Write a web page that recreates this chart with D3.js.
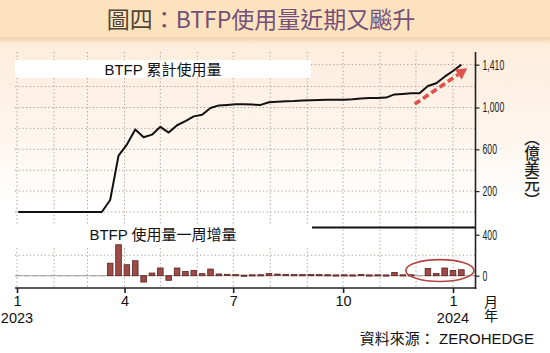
<!DOCTYPE html>
<html><head><meta charset="utf-8">
<script src="https://cdn.jsdelivr.net/npm/d3@7"></script>
<style>html,body{margin:0;padding:0;background:#fff;} svg{display:block}</style>
</head><body><svg id="c" width="550" height="353"></svg>
<script>
// ---------------- data ----------------
const titleMain = "圖四";
const titleRest = "：BTFP使用量近期又飈升";
const topLabel = "BTFP 累計使用量";
const bottomLabel = "BTFP 使用量一周增量";
const unitLabel = "（億美元）";
const axisUnitLabel = "月年";
const sourceLabel = "資料來源： ZEROHEDGE";

// weekly observations (Mondays), starting 2023-01-02
const firstWeek = "2023-01-02";
const cumulative = [0,0,0,0,0,0,0,0,0,0,0,
  115,540,645,790,715,740,815,760,830,870,
  915,930,995,1020,1025,1030,1030,1028,1025,1050,
  1055,1060,1063,1068,1070,1072,1073,1073,1075,1078,
  1085,1090,1092,1095,1125,1130,1136,1136,1206,1232,
  1295,1349,1410];
const weeklyChange = [0,0,0,0,0,0,0,0,0,0,0,
  122,302,107,146,-62,26,75,-45,75,42,
  52,20,65,17,8,5,-2,3,4,22,
  10,12,5,5,5,5,4,2,3,2,
  6,2,3,2,32,3,3,0,71,22,
  75,52,58];

const cumTickValues = [1410, 1000, 600, 200];
const cumGridValues = [0, 200, 400, 600, 800, 1000, 1200, 1410];
const chgTickValues = [400, 0];
const chgGridValues = [200];
const monthTickDates = ["2023-01-01","2023-04-01","2023-07-01","2023-10-01","2024-01-01"];
const monthTickLabels = ["1","4","7","10","1"];
const yearLabels = ["2023","","","","2024"];
// annotations (data coords)
const arrowFrom = {date:"2023-11-30", value:1033};
const arrowTo = {date:"2024-01-13", value:1375};
const ellipseCenter = {date:"2023-12-21", value:50};
const ellipseHalfDays = 28.5, ellipseHalfValue = 107;

// ---------------- layout ----------------
const svg = d3.select("#c");
const W = 550, H = 353;
const plotL = 15, plotR = 475.5, plotTop = 52, axisY = 288;

const parse = d3.utcParse("%Y-%m-%d");
const start = parse(firstWeek);
const weeks = cumulative.map((_, i) => d3.utcDay.offset(start, i * 7));

const x = d3.scaleUtc().domain([parse("2023-01-01"), parse("2024-01-01")]).range([17, 453]);
const yCum = d3.scaleLinear().domain([0, 1000]).range([212, 107.5]);
const yChg = d3.scaleLinear().domain([0, 400]).range([275.7, 234.7]);

// backgrounds
const defs = svg.append("defs");
const g1 = defs.append("linearGradient").attr("id","bg").attr("x1",0).attr("y1",0).attr("x2",0).attr("y2",1);
g1.append("stop").attr("offset","0%").attr("stop-color","#fdeddc");
g1.append("stop").attr("offset","45%").attr("stop-color","#fef5ed");
g1.append("stop").attr("offset","80%").attr("stop-color","#ffffff");
const g2 = defs.append("linearGradient").attr("id","sh").attr("x1",0).attr("y1",0).attr("x2",0).attr("y2",1);
g2.append("stop").attr("offset","0%").attr("stop-color","#f1cfa5");
g2.append("stop").attr("offset","100%").attr("stop-color","#fdeddc");

svg.append("rect").attr("width",W).attr("height",H).attr("fill","#fff");
svg.append("rect").attr("x",0).attr("y",44).attr("width",W).attr("height",200).attr("fill","url(#bg)");
svg.append("rect").attr("x",0).attr("y",0).attr("width",W).attr("height",37).attr("fill","#fde3bd");
svg.append("rect").attr("x",0).attr("y",37).attr("width",W).attr("height",7).attr("fill","url(#sh)");

// title
const title = svg.append("text").attr("x", 261).attr("y", 28).attr("text-anchor","middle")
  .style("font-family","'Noto Sans CJK TC','Noto Sans CJK SC',sans-serif").style("font-size","23px").style("font-weight","400");
title.append("tspan").attr("fill","#4d4338").text(titleMain);
title.append("tspan").attr("fill","#74507a").text(titleRest);

// vertical month grid
const months = d3.utcMonth.range(parse("2023-01-01"), parse("2024-01-02"));
svg.append("g").selectAll("line").data(months).join("line")
  .attr("x1", d => x(d)).attr("x2", d => x(d))
  .attr("y1", plotTop).attr("y2", axisY)
  .attr("stroke","#aaa19a").attr("stroke-width",1).attr("stroke-dasharray","1.3,2.4");

// horizontal grids
svg.append("g").selectAll("line").data(cumGridValues).join("line")
  .attr("x1", plotL).attr("x2", plotR).attr("y1", d => yCum(d)).attr("y2", d => yCum(d))
  .attr("stroke","#aaa19a").attr("stroke-width",1).attr("stroke-dasharray","1.3,2.4");
svg.append("g").selectAll("line").data(chgGridValues).join("line")
  .attr("x1", plotL).attr("x2", plotR).attr("y1", d => yChg(d)).attr("y2", d => yChg(d))
  .attr("stroke","#aaa19a").attr("stroke-width",1).attr("stroke-dasharray","1.3,2.4");

// separator line + label boxes
svg.append("line").attr("x1",plotL).attr("x2",plotR).attr("y1",227.5).attr("y2",227.5)
  .attr("stroke","#111").attr("stroke-width",2);
svg.append("rect").attr("x",plotL).attr("y",60).attr("width",296).attr("height",18).attr("fill","#fff");
svg.append("rect").attr("x",plotL).attr("y",226).attr("width",297).attr("height",21).attr("fill","#fff");

const labelFont = "'Liberation Sans','Noto Sans CJK TC',sans-serif";
svg.append("text").attr("x",163).attr("y",74.5).attr("text-anchor","middle")
  .style("font-family",labelFont).style("font-size","15px").attr("fill","#111").text(topLabel);
svg.append("text").attr("x",163).attr("y",240).attr("text-anchor","middle")
  .style("font-family",labelFont).style("font-size","15px").attr("fill","#111").text(bottomLabel);

// zero line for weekly change
svg.append("line").attr("x1",plotL).attr("x2",plotR).attr("y1",yChg(0)).attr("y2",yChg(0))
  .attr("stroke","#a9a19b").attr("stroke-width",1);

// bars
const bw = 5.6;
svg.append("g").selectAll("rect").data(weeklyChange).join("rect")
  .attr("x", (d,i) => x(weeks[i]) - bw/2)
  .attr("width", bw)
  .attr("y", d => Math.min(yChg(d), yChg(0)) - (Math.abs(yChg(d)-yChg(0)) < 1.2 ? 0.6 : 0))
  .attr("height", d => Math.max(Math.abs(yChg(d) - yChg(0)), 1.2))
  .attr("fill", d => d === 0 ? "#b0a7a0" : "#9e4a46")
  .attr("stroke", d => d === 0 ? "none" : "#5a2220").attr("stroke-width", 0.8);

// cumulative line
const line = d3.line().x((d,i) => x(weeks[i])).y(d => yCum(d));
svg.append("path").datum(cumulative).attr("d", line)
  .attr("fill","none").attr("stroke","#111").attr("stroke-width",2).attr("stroke-linejoin","round");

// ellipse annotation
const ec = parse(ellipseCenter.date);
svg.append("ellipse")
  .attr("cx", x(ec)).attr("cy", yChg(ellipseCenter.value))
  .attr("rx", x(d3.utcHour.offset(ec, ellipseHalfDays*24)) - x(ec))
  .attr("ry", yChg(0) - yChg(ellipseHalfValue))
  .attr("fill","none").attr("stroke","#b4443f").attr("stroke-width",1.6);

// dashed arrow
const ax0 = x(parse(arrowFrom.date)), ay0 = yCum(arrowFrom.value);
const ax1 = x(parse(arrowTo.date)), ay1 = yCum(arrowTo.value);
const ang = Math.atan2(ay1 - ay0, ax1 - ax0);
const headL = 11, headW = 6;
const bx = ax1 - headL*Math.cos(ang), by = ay1 - headL*Math.sin(ang);
svg.append("line").attr("x1",ax0).attr("y1",ay0).attr("x2",bx).attr("y2",by)
  .attr("stroke","#de524b").attr("stroke-width",3.6).attr("stroke-dasharray","6.5,3.5");
const px = -Math.sin(ang), py = Math.cos(ang);
svg.append("path").attr("d", `M${ax1},${ay1}L${bx+px*headW},${by+py*headW}L${bx-px*headW},${by-py*headW}Z`)
  .attr("fill","#de524b");

// right axis line
svg.append("line").attr("x1",plotR).attr("x2",plotR).attr("y1",plotTop).attr("y2",axisY+1)
  .attr("stroke","#222").attr("stroke-width",1.6);
// x axis line
svg.append("line").attr("x1",plotL).attr("x2",plotR+0.8).attr("y1",axisY).attr("y2",axisY)
  .attr("stroke","#222").attr("stroke-width",1.6);

const tickFont = "'Liberation Sans',sans-serif";
const yAxisCum = d3.axisRight(yCum).tickValues(cumTickValues).tickFormat(d3.format(",")).tickSize(4).tickPadding(3);
const gyc = svg.append("g").attr("transform",`translate(${plotR},0)`).call(yAxisCum);
const yAxisChg = d3.axisRight(yChg).tickValues(chgTickValues).tickFormat(d3.format(",")).tickSize(4).tickPadding(3);
const gyg = svg.append("g").attr("transform",`translate(${plotR},0)`).call(yAxisChg);
[gyc, gyg].forEach(g => {
  g.select(".domain").remove();
  g.selectAll(".tick line").attr("stroke","#222").attr("stroke-width",1.2);
  g.selectAll(".tick text").attr("fill","#222").style("font-family",tickFont).style("font-size","14px")
    .each(function(){ const L = this.getComputedTextLength(); this.setAttribute("textLength", (L*0.62).toFixed(2)); this.setAttribute("lengthAdjust","spacingAndGlyphs"); });
});

const xTicks = monthTickDates.map(parse);
const xAxis = d3.axisBottom(x).tickValues(xTicks).tickFormat((d,i) => monthTickLabels[i]).tickSize(5).tickPadding(3);
const gx = svg.append("g").attr("transform",`translate(0,${axisY})`).call(xAxis);
gx.select(".domain").remove();
gx.selectAll(".tick line").attr("stroke","#222").attr("stroke-width",1.6);
gx.selectAll(".tick text").attr("fill","#111").style("font-family","'Liberation Sans',sans-serif").style("font-size","14.5px");

// year labels under first/last month ticks
svg.append("g").selectAll("text").data(yearLabels).join("text")
  .attr("x", (d,i) => x(xTicks[i])).attr("y", 323).attr("text-anchor","middle")
  .style("font-family","'Liberation Sans',sans-serif").style("font-size","14.5px").attr("fill","#111").text(d => d);

const cjk = "'Noto Sans CJK TC','Noto Sans CJK SC',sans-serif";
// month/year unit (vertical)
svg.append("text").attr("x",491).attr("y",294.5).attr("text-anchor","start")
  .style("writing-mode","vertical-rl").style("font-family",cjk).style("font-size","14px")
  .attr("fill","#111").text(axisUnitLabel);

// unit label (vertical)
svg.append("text").attr("x",532).attr("y",130).attr("text-anchor","start")
  .style("writing-mode","vertical-rl").style("font-family",cjk).style("font-size","15.5px")
  .style("font-weight","500").attr("fill","#222").text(unitLabel);

// source
svg.append("text").attr("x",534).attr("y",343.5).attr("text-anchor","end")
  .style("font-family","'Liberation Sans','Noto Sans CJK TC',sans-serif").style("font-size","15px").attr("fill","#111").text(sourceLabel);
</script></body></html>
